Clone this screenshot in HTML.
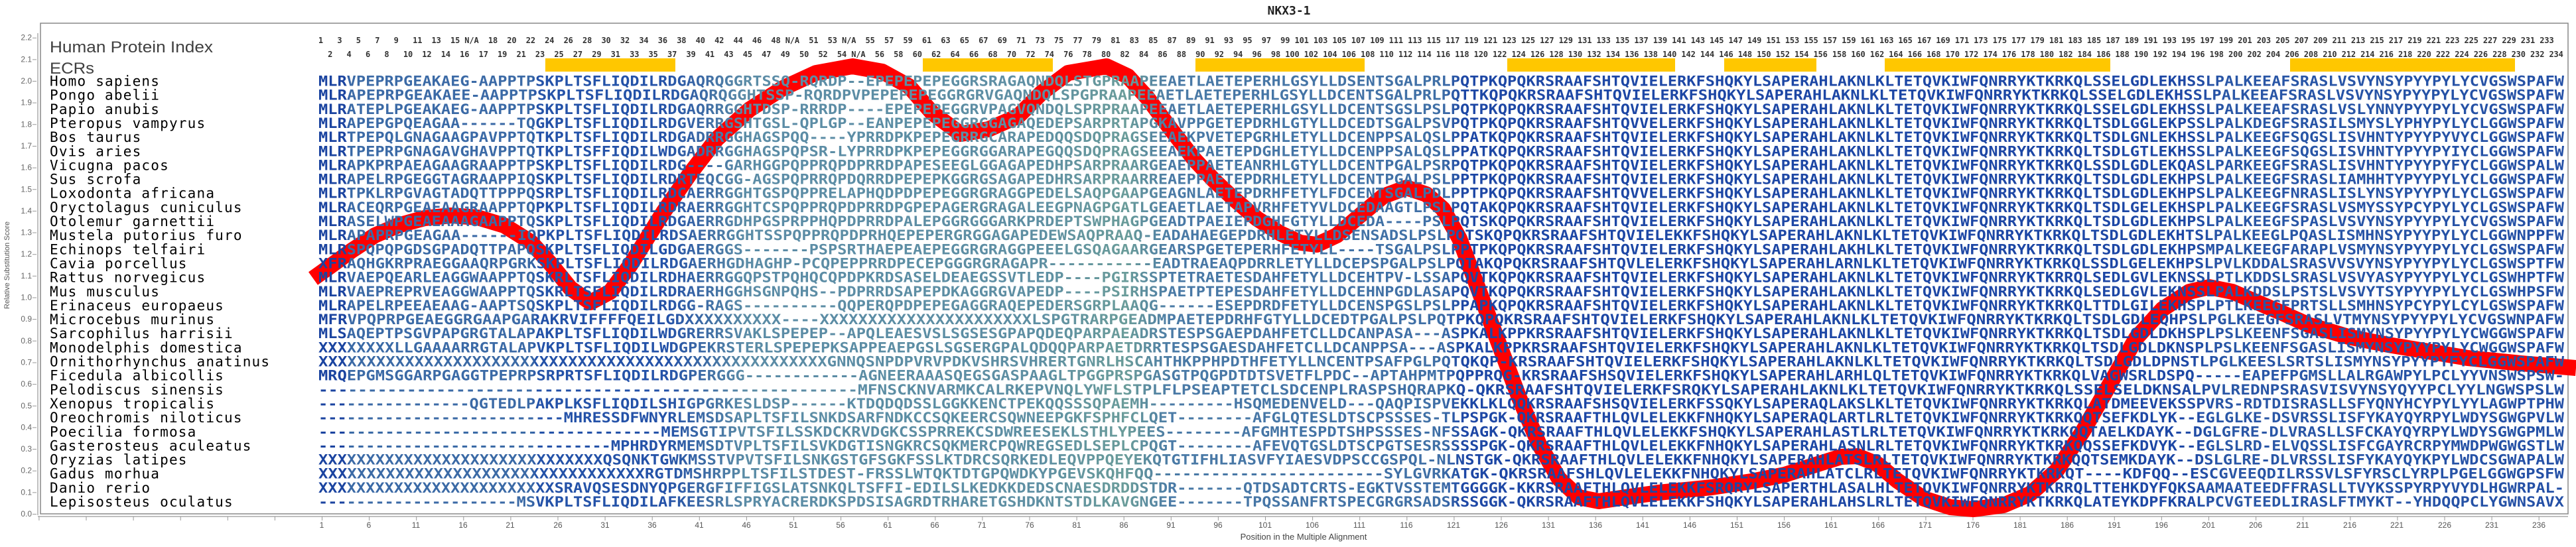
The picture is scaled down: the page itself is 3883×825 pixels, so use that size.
<!DOCTYPE html>
<html><head><meta charset="utf-8"><style>
html,body{margin:0;padding:0;background:#fff;}
svg{display:block;}
.sp{font-family:"DejaVu Sans Mono","Liberation Mono",monospace;font-size:21px;fill:#000;letter-spacing:1.2px;}
.sq{font-family:"DejaVu Sans Mono","Liberation Mono",monospace;font-size:21px;font-weight:bold;}
.hn{font-family:"DejaVu Sans Mono","Liberation Mono",monospace;font-size:12px;font-weight:bold;fill:#333;white-space:pre;}
.yt{font-family:"Liberation Sans",sans-serif;font-size:12px;fill:#666;text-anchor:end;}
.xt{font-family:"Liberation Sans",sans-serif;font-size:12px;fill:#555;text-anchor:middle;}
</style></head><body>
<svg width="3883" height="825" viewBox="0 0 3883 825" xmlns="http://www.w3.org/2000/svg">
<defs>
<linearGradient id="g" gradientUnits="userSpaceOnUse" x1="480" y1="0" x2="3865" y2="0">
<stop offset="0" stop-color="#1b44a0"/>
<stop offset="0.012" stop-color="#1b44a0"/>
<stop offset="0.014" stop-color="#3b6aa6"/>
<stop offset="0.095" stop-color="#3b6aa6"/>
<stop offset="0.097" stop-color="#2452a8"/>
<stop offset="0.155" stop-color="#2452a8"/>
<stop offset="0.17" stop-color="#3a68a5"/>
<stop offset="0.19" stop-color="#5b8ca6"/>
<stop offset="0.32" stop-color="#5e8fa3"/>
<stop offset="0.36" stop-color="#6a9c9a"/>
<stop offset="0.38" stop-color="#4a7aa6"/>
<stop offset="0.50" stop-color="#3f6fa6"/>
<stop offset="0.51" stop-color="#1d47a5"/>
<stop offset="0.83" stop-color="#1d47a5"/>
<stop offset="0.85" stop-color="#2a57a6"/>
<stop offset="1" stop-color="#2450a6"/>
</linearGradient>
</defs>

<text x="1943" y="22" text-anchor="middle" font-family="DejaVu Sans Mono,monospace" font-weight="bold" font-size="18" fill="#222">NKX3-1</text>

<rect x="61" y="35" width="3810" height="740" fill="none" stroke="#888" stroke-width="1.5"/>
<line x1="57" y1="50" x2="57" y2="777" stroke="#aaa" stroke-width="1.5"/>
<line x1="57" y1="779" x2="3871" y2="779" stroke="#aaa" stroke-width="1.5"/>
<line x1="52" y1="56.7" x2="52" y2="776" stroke="#999" stroke-width="6" stroke-dasharray="1 31.65" stroke-dashoffset="0"/>
<line x1="58.4" y1="782" x2="3830" y2="782" stroke="#999" stroke-width="6" stroke-dasharray="1 70.1"/>

<g class="yt">
<text x="48" y="779">0.0</text><text x="48" y="746.4">0.1</text><text x="48" y="713.7">0.2</text><text x="48" y="681.1">0.3</text><text x="48" y="648.4">0.4</text><text x="48" y="615.8">0.5</text><text x="48" y="583.1">0.6</text><text x="48" y="550.5">0.7</text><text x="48" y="517.8">0.8</text><text x="48" y="485.2">0.9</text><text x="48" y="452.5">1.0</text><text x="48" y="419.9">1.1</text><text x="48" y="387.2">1.2</text><text x="48" y="354.6">1.3</text><text x="48" y="321.9">1.4</text><text x="48" y="289.3">1.5</text><text x="48" y="256.6">1.6</text><text x="48" y="224">1.7</text><text x="48" y="191.3">1.8</text><text x="48" y="158.7">1.9</text><text x="48" y="126">2.0</text><text x="48" y="93.4">2.1</text><text x="48" y="60.7">2.2</text>
</g>
<text transform="translate(14,400) rotate(-90)" text-anchor="middle" font-family="Liberation Sans,sans-serif" font-size="11" fill="#555">Relative Substitution Score</text>

<g class="xt">
<text x="485" y="796">1</text><text x="556" y="796">6</text><text x="627" y="796">11</text><text x="698" y="796">16</text><text x="769" y="796">21</text><text x="841" y="796">26</text><text x="912" y="796">31</text><text x="983" y="796">36</text><text x="1054" y="796">41</text><text x="1125" y="796">46</text><text x="1196" y="796">51</text><text x="1267" y="796">56</text><text x="1338" y="796">61</text><text x="1409" y="796">66</text><text x="1480" y="796">71</text><text x="1552" y="796">76</text><text x="1623" y="796">81</text><text x="1694" y="796">86</text><text x="1765" y="796">91</text><text x="1836" y="796">96</text><text x="1907" y="796">101</text><text x="1978" y="796">106</text><text x="2049" y="796">111</text><text x="2120" y="796">116</text><text x="2191" y="796">121</text><text x="2263" y="796">126</text><text x="2334" y="796">131</text><text x="2405" y="796">136</text><text x="2476" y="796">141</text><text x="2547" y="796">146</text><text x="2618" y="796">151</text><text x="2689" y="796">156</text><text x="2760" y="796">161</text><text x="2831" y="796">166</text><text x="2902" y="796">171</text><text x="2974" y="796">176</text><text x="3045" y="796">181</text><text x="3116" y="796">186</text><text x="3187" y="796">191</text><text x="3258" y="796">196</text><text x="3329" y="796">201</text><text x="3400" y="796">206</text><text x="3471" y="796">211</text><text x="3542" y="796">216</text><text x="3613" y="796">221</text><text x="3685" y="796">226</text><text x="3756" y="796">231</text><text x="3827" y="796">236</text>
</g>
<text x="1965" y="814" text-anchor="middle" font-family="Liberation Sans,sans-serif" font-size="13" fill="#444">Position in the Multiple Alignment</text>

<text x="75" y="79" font-family="Liberation Sans,sans-serif" font-size="24" fill="#404040" textLength="246" lengthAdjust="spacingAndGlyphs">Human Protein Index</text>
<text x="75" y="111" font-family="Liberation Sans,sans-serif" font-size="24" fill="#404040" textLength="67" lengthAdjust="spacingAndGlyphs">ECRs</text>

<text class="hn" x="472.8" y="65" xml:space="preserve" textLength="3384" lengthAdjust="spacing"> 1   3   5   7   9   11  13  15 N/A  18  20  22  24  26  28  30  32  34  36  38  40  42  44  46  48 N/A  51  53 N/A  55  57  59  61  63  65  67  69  71  73  75  77  79  81  83  85  87  89  91  93  95  97  99 101 103 105 107 109 111 113 115 117 119 121 123 125 127 129 131 133 135 137 139 141 143 145 147 149 151 153 155 157 159 161 163 165 167 169 171 173 175 177 179 181 183 185 187 189 191 193 195 197 199 201 203 205 207 209 211 213 215 217 219 221 223 225 227 229 231 233 </text>
<text class="hn" x="487" y="86" xml:space="preserve" textLength="3384" lengthAdjust="spacing"> 2   4   6   8   10  12  14  16  17  19  21  23  25  27  29  31  33  35  37  39  41  43  45  47  49  50  52  54 N/A  56  58  60  62  64  66  68  70  72  74  76  78  80  82  84  86  88  90  92  94  96  98 100 102 104 106 108 110 112 114 116 118 120 122 124 126 128 130 132 134 136 138 140 142 144 146 148 150 152 154 156 158 160 162 164 166 168 170 172 174 176 178 180 182 184 186 188 190 192 194 196 198 200 202 204 206 208 210 212 214 216 218 220 222 224 226 228 230 232 234 </text>

<g fill="#ffc700">
<rect x="822" y="88" width="196" height="20"/>
<rect x="1391" y="88" width="196" height="20"/>
<rect x="1802" y="88" width="255" height="20"/>
<rect x="2272" y="88" width="253" height="20"/>
<rect x="2599" y="88" width="139" height="20"/>
<rect x="2841" y="88" width="340" height="20"/>
<rect x="3452" y="88" width="339" height="20"/>
</g>

<polyline fill="none" stroke="#ff0000" stroke-width="24" stroke-linejoin="round" stroke-linecap="butt" points="472,420 500,400 530,378 565,355 600,340 640,329 680,325 720,328 760,340 800,365 830,398 860,435 890,456 920,440 950,400 975,360 1000,320 1040,262 1080,210 1130,165 1180,133 1230,110 1285,100 1330,108 1370,130 1405,170 1448,202 1490,195 1535,175 1570,140 1610,110 1668,100 1700,115 1730,148 1765,195 1800,240 1830,272 1860,300 1895,330 1930,352 1960,366 1985,369 2015,355 2050,325 2085,296 2120,283 2150,293 2175,315 2200,360 2230,440 2260,520 2290,600 2320,670 2350,722 2380,750 2410,756 2450,750 2500,743 2580,735 2640,726 2690,716 2740,700 2775,689 2800,688 2830,700 2860,725 2900,752 2940,765 2975,768 3020,762 3060,745 3100,710 3140,650 3180,580 3220,510 3260,466 3300,440 3330,433 3365,440 3400,455 3440,472 3480,490 3540,508 3600,520 3660,530 3720,540 3800,548 3883,555"/>

<g class="sp">
<text x="75" y="129.5">Homo sapiens</text>
<text x="75" y="150.7">Pongo abelii</text>
<text x="75" y="171.8">Papio anubis</text>
<text x="75" y="193">Pteropus vampyrus</text>
<text x="75" y="214.1">Bos taurus</text>
<text x="75" y="235.3">Ovis aries</text>
<text x="75" y="256.4">Vicugna pacos</text>
<text x="75" y="277.6">Sus scrofa</text>
<text x="75" y="298.7">Loxodonta africana</text>
<text x="75" y="319.9">Oryctolagus cuniculus</text>
<text x="75" y="341">Otolemur garnettii</text>
<text x="75" y="362.2">Mustela putorius furo</text>
<text x="75" y="383.3">Echinops telfairi</text>
<text x="75" y="404.5">Cavia porcellus</text>
<text x="75" y="425.6">Rattus norvegicus</text>
<text x="75" y="446.8">Mus musculus</text>
<text x="75" y="467.9">Erinaceus europaeus</text>
<text x="75" y="489.1">Microcebus murinus</text>
<text x="75" y="510.2">Sarcophilus harrisii</text>
<text x="75" y="531.4">Monodelphis domestica</text>
<text x="75" y="552.5">Ornithorhynchus anatinus</text>
<text x="75" y="573.7">Ficedula albicollis</text>
<text x="75" y="594.8">Pelodiscus sinensis</text>
<text x="75" y="616">Xenopus tropicalis</text>
<text x="75" y="637.1">Oreochromis niloticus</text>
<text x="75" y="658.3">Poecilia formosa</text>
<text x="75" y="679.4">Gasterosteus aculeatus</text>
<text x="75" y="700.6">Oryzias latipes</text>
<text x="75" y="721.7">Gadus morhua</text>
<text x="75" y="742.9">Danio rerio</text>
<text x="75" y="764">Lepisosteus oculatus</text>
</g>

<g class="sq" fill="url(#g)">
<text x="480" y="129.5" textLength="3385" lengthAdjust="spacingAndGlyphs">MLRVPEPRPGEAKAEG-AAPPTPSKPLTSFLIQDILRDGAQRQGGRTSSQ-RQRDP--EPEPEPEPEGGRSRAGAQNDQLSTGPRAAPEEAETLAETEPERHLGSYLLDSENTSGALPRLPQTPKQPQKRSRAAFSHTQVIELERKFSHQKYLSAPERAHLAKNLKLTETQVKIWFQNRRYKTKRKQLSSELGDLEKHSSLPALKEEAFSRASLVSVYNSYPYYPYLYCVGSWSPAFW</text>
<text x="480" y="150.7" textLength="3385" lengthAdjust="spacingAndGlyphs">MLRAPEPRPGEAKAEE-AAPPTPSKPLTSFLIQDILRDGAQRQGGHTSSP-RQRDPVPEPEPEPEGGRGRVGAQNDQLSPGPRAAPEEAETLAETEPERHLGSYLLDCENTSGALPRLPQTTKQPQKRSRAAFSHTQVIELERKFSHQKYLSAPERAHLAKNLKLTETQVKIWFQNRRYKTKRKQLSSELGDLEKHSSLPALKEEAFSRASLVSVYNSYPYYPYLYCVGSWSPAFW</text>
<text x="480" y="171.8" textLength="3385" lengthAdjust="spacingAndGlyphs">MLRATEPLPGEAKAEG-AAPPTPSKPLTSFLIQDILRDGAQRRGGHTDSP-RRRDP----EPEPEPEGGRVPAGVQNDQLSPRPRAAPEEAETLAETEPERHLGSYLLDCENTSGSLPSLPQTPKQPQKRSRAAFSHTQVIELERKFSHQKYLSAPERAHLAKNLKLTETQVKIWFQNRRYKTKRKQLSSELGDLEKHSSLPALKEEAFSRASLVSLYNNYPYYPYLYCVGSWSPAFW</text>
<text x="480" y="193" textLength="3385" lengthAdjust="spacingAndGlyphs">MLRAPEPGPQEAGAA------TQGKPLTSFLIQDILRDGVERRGSHTGSL-QPLGP--EANPEPEPEGGRGGAGAQEDEPSARPRTAPGKAVPPGETEPDRHLGTYLLDCEDTSGALPSVPQTPKQPQKRSRAAFSHTQVVELERKFSHQKYLSAPERAHLAKNLKLTETQVKIWFQNRRYKTKRKQLTSDLGGLEKPSSLPALKDEGFSRASILSMYSLYPHYPYLYCLGGWSPAFW</text>
<text x="480" y="214.1" textLength="3385" lengthAdjust="spacingAndGlyphs">MLRTPEPQLGNAGAAGPAVPPTQTKPLTSFLIQDILRDGADRRGGHAGSPQQ----YPRRDPKPEPEGRRGCARAPEDQQSDQPRAGSEEAEKPVETEPGRHLETYLLDCENPPSALQSLPPATKQPQKRSRAAFSHTQVIELERKFSHQKYLSAPERAHLAKNLKLTETQVKIWFQNRRYKTKRKQLTSDLGNLEKHSSLPALKEEGFSQGSLISVHNTYPYYPYVYCLGGWSPAFW</text>
<text x="480" y="235.3" textLength="3385" lengthAdjust="spacingAndGlyphs">MLRTPEPRPGNAGAVGHAVPPTQTKPLTSFFIQDILWDGADRRGGHAGSPQPSR-LYPRRDPKPEPEGGRGGARAPEGQQSDQPRAGSEEAEKPAETEPDGHLETYLLDCENPPSALQSLPPATKQPQKRSRAAFSHTQVIELERKFSHQKYLSAPERAHLAKNLKLTETQVKIWFQNRRYKTKRKQLTSDLGTLEKHSSLPALKEEGFSQGSLISVHNTYPYYPYIYCLGGWSPAFW</text>
<text x="480" y="256.4" textLength="3385" lengthAdjust="spacingAndGlyphs">MLRAPKPRPAEAGAAGRAAPPTPSKPLTSFLIQDILRDG----GARHGGPQPPRQPDPRRDPAPESEEGLGGAGAPEDHPSARPRAARGEAEPPAETEANRHLGTYLLDCENTPGALPSRPQTPKQPQKRSRAAFSHTQVIELERKFSHQKYLSAPERAHLAKNLKLTETQVKIWFQNRRYKTKRKQLSSDLGDLEKQASLPARKEEGFSRASLISVHNTYPYYPYFYCLGGWSPALW</text>
<text x="480" y="277.6" textLength="3385" lengthAdjust="spacingAndGlyphs">MLRAPELRPGEGGTAGRAAPPIQSKPLTSFLIQDILRDRTEQCGG-AGSPQPRRQPDQRRDPEPEPKGGRGSAGAPEDHRSARPRAARREAEPPAETEPDRHLETYLLDCENTPGALPSLPPTPKQPQKRSRAAFSHTQVIELERKFSHQKYLSAPERAHLAKNLKLTETQVKIWFQNRRYKTKRKQLTSDLGDLEKHPSLPALKEEGFSRASLIAMHHTYPYYPYLYCLGGWSPAFW</text>
<text x="480" y="298.7" textLength="3385" lengthAdjust="spacingAndGlyphs">MLRTPKLRPGVAGTADQTTPPPQSRPLTSFLIQDILRDCAERRGGHTGSPQPPRELAPHQDPDPEPEGGRGRAGGPEDELSAQPGAAPGEAGNLAETEPDRHFETYLFDCENTSGALPDLPPTPKQPQKRSRAAFSHTQVVELERKFSHQKYLSAPERAHLAKNLKLTETQVKIWFQNRRYKTKRKQLTSDLGDLEKHPSLPALKEEGFNRASLISLYNSYPYYPYLYCLGSWSPAFW</text>
<text x="480" y="319.9" textLength="3385" lengthAdjust="spacingAndGlyphs">MLRACEQRPGEAEAAGRAAPPTQPKPLTSFLIQDILRDRAERRGGHTCSPQPPRQPDPRRDPGPEPAGERGRAGALEEGPNAGPGATLGEAETLAETAPVRHFETYVLDCEDAAGTLPSLPQTAKQPQKRSRAAFSHTQVIELERKFSHQKYLSAPERAHLAKNLKLTETQVKIWFQNRRYKTKRKQLTSDLGELEKHSPLPALKEEGFSRASLVSMYSSYPCYPYLYCLGSWSPAFW</text>
<text x="480" y="341" textLength="3385" lengthAdjust="spacingAndGlyphs">MLRASELWPGEAEAAAGAAPPTQSKPLTSFLIQDILRDGAERRGDHPGSPRPPHQPDPRRDPALEPGGRGGGARKPRDEPTSWPHAGPGEADTPAEIEPDGHFGTYLLDCEDA----PSLPQTSKQPQKRSRAAFSHTQVIELERKFSHQKYLSAPERAHLAKNLKLTETQVKIWFQNRRYKTKRKQLTSDLGDLEKHPSLPALKEEGFSPASLVSVYNSYPYYPYLYCVGSWSPAFW</text>
<text x="480" y="362.2" textLength="3385" lengthAdjust="spacingAndGlyphs">MLRAPAPRPGEAGAA------IQPKPLTSFLIQDILRDSAERRGGHTSSPQPPRQPDPRHQEPEPERGRGGAGAPEDEWSAQPRAAQ-EADAHAEGEPDRHLETYLLDSENSADSLPSLPQTSKQPQKRSRAAFSHTQVIELEKKFSHQKYLSAPERAHLAKNLKLTETQVKIWFQNRRYKTKRKQLTSDLGDLEKHTSLPALKEEGLPQASLISMHNSYPYYPYLYCLGGWNPPFW</text>
<text x="480" y="383.3" textLength="3385" lengthAdjust="spacingAndGlyphs">MLRSPQPQPGDSGPADQTTPAPQSKPLTSFLIQDILGDGAERGGS-------PSPSRTHAEPEAEPEGGRGRAGGPEEELGSQAGAARGEARSPGETEPERHFETYLL----TSGALPSLPPTPKQPQKRSRAAFSHTQVIELERKFSHQKYLSAPERAHLAKHLKLTETQVKIWFQNRRYKTKRKQLTSDLGDLEKHPSMPALKEEGFARAPLVSMYNSYPYYPYLYCLGSWSPAFW</text>
<text x="480" y="404.5" textLength="3385" lengthAdjust="spacingAndGlyphs">XFRAQHGKRPRAEGGAAQRPGRKSKPLTSFLIQDILRDGAERHGDHAGHP-PCQPEPPRRDPECEPGGGRGRAGAPR-----------EADTRAEAQPDRRLETYLLDCEPSPGALPSLPQTAKQPQKRSRAAFSHTQVLELERKFSHQKYLSAPERAHLARNLKLTETQVKIWFQNRRYKTKRKQLSSDLGELEKHPSLPVLKDDALSRASVVSVYNSYPYYPYLYCLGSWSPTFW</text>
<text x="480" y="425.6" textLength="3385" lengthAdjust="spacingAndGlyphs">MLRVAEPQEARLEAGGWAAPPTQSKRLTSFLIQDILRDHAERRGGQPSTPQHQCQPDPKRDSASELDEAEGSSVTLEDP----PGIRSSPTETRAETESDAHFETYLLDCEHTPV-LSSAPQVTKQPQKRSRAAFSHTQVIELERKFSHQKYLSAPERAHLAKNLKLTETQVKIWFQNRRYKTKRRQLSEDLGVLEKNSSLPTLKDDSLSRASLVSVYASYPYYPYLYCLGSWHPTFW</text>
<text x="480" y="446.8" textLength="3385" lengthAdjust="spacingAndGlyphs">MLRVAEPREPRVEAGGWAAPPTQSKRLTSFLIQDILRDRAERHGGHSGNPQHS--PDPRRDSAPEPDKAGGRGVAPEDP----PSIRHSPAETPTEPESDAHFETYLLDCEHNPGDLASAPQVTKQPQKRSRAAFSHTQVIELERKFSHQKYLSAPERAHLAKNLKLTETQVKIWFQNRRYKTKRKQLSEDLGVLEKNSSLPALKDDSLPSTSLVSVYTSYPYYPYLYCLGSWHPSFW</text>
<text x="480" y="467.9" textLength="3385" lengthAdjust="spacingAndGlyphs">MLRAPELRPEEAEAAG-AAPTSQSKPLTSFLIQDILRDGG-RAGS----------QQPERQPDPEPEGAGGRAQEPEDERSGRPLAAQG------ESEPDRDFETYLLDCENSPGSLPSLPPAPKQPQKRSRAAFSHTQVIELERKFSHQKYLSAPERAHLAKNLKLTETQVKIWFQNRRYKTKRKQLTTDLGILEKHSPLPTLKEEGFPRTSLLSMHNSYPCYPYLCYLGSWSPAFW</text>
<text x="480" y="489.1" textLength="3385" lengthAdjust="spacingAndGlyphs">MFRVPQPRPGEAEGGRGAAPGARAKRVIFFFFQEILGDXXXXXXXXXX----XXXXXXXXXXXXXXXXXXXXXXLSPGTRARPGEADMPAETEPDRHFGTYLLDCEDTPGALPSLPQTPKQPQKRSRAAFSHTQVIELERKFSHQKYLSAPERAHLAKNLKLTETQVKIWFQNRRYKTKRKQLTSDLGDLEQHPSLPGLKEEGFSRASLVTMYNSYPYYPYLYCVGSWNPAFW</text>
<text x="480" y="510.2" textLength="3385" lengthAdjust="spacingAndGlyphs">MLSAQEPTPSGVPAPGRGTALAPAKPLTSFLIQDILWDGRERRSVAKLSPEPEP--APQLEAESVSLSGSESGPAPQDEQPARPAEADRSTESPSGAEPDAHFETCLLDCANPASA---ASPKALKPPKRSRAAFSHTQVIELERKFSHQKYLSAPERAHLAKNLKLTETQVKIWFQNRRYKTKRKQLTSDLGDLDKHSPLPSLKEENFSGASLISMYNSYPYYPYLYCWGGWSPAFW</text>
<text x="480" y="531.4" textLength="3385" lengthAdjust="spacingAndGlyphs">XXXXXXXXLLGAAAARRGTALAPVKPLTSFLIQDILWDGPEKRSTERLSPEPEPKSAPPEAEPGSLSGSERGPALQDQQPARPAETDRRTESPSGAESDAHFETCLLDCANPPSA---ASPKALKPPKRSRAAFSHTQVIELERKFSHQKYLSAPERAHLAKNLKLTETQVKIWFQNRRYKTKRKQLTSDLGDLDKNSPLPSLKEENFSGASLISMYNSYPYYPYLYCWGGWSPAFW</text>
<text x="480" y="552.5" textLength="3385" lengthAdjust="spacingAndGlyphs">XXXXXXXXXXXXXXXXXXXXXXXXXXXXXXXXXXXXXXXXXXXXXXXXXXXXXGNNQSNPDPVRVPDKVSHRSVHRERTGNRLHSCAHTHKPPHPDTHFETYLLNCENTPSAFPGLPQTQKQP-KRSRAAFSHTQVIELERKFSHQKYLSAPERAHLAKNLKLTETQVKIWFQNRRYKTKRKQLTSDLGDLDPNSTLPGLKEESLSRTSLISMYNSYPYYPYFYCLGGWSPAFW</text>
<text x="480" y="573.7" textLength="3385" lengthAdjust="spacingAndGlyphs">MRQEPGMSGGARPGAGGTPEPRPSRPRTSFLIQDILRDGPERGGG------------AGNEERAAASQEGSGASPAAGLTPGGPRSPGASGTPQGPDTDTSVETFLPDC--APTAHPMTPQPPRQG-KRSRAAFSHSQVIELERKFSHQKYLSAPERAHLARHLQLTETQVKIWFQNRRYKTKRKQLVAGWSRLDSPQ-----EAPEFPGMSLLALRGAWPYLPCLYYVNSWSPSW-</text>
<text x="480" y="594.8" textLength="3385" lengthAdjust="spacingAndGlyphs">-------------------------------------------------------MFNSCKNVARMKCALRKEPVNQLYWFLSTPLFLPSEAPTETCLSDCENPLRASPSHQRAPKQ-QKRSRAAFSHTQVIELERKFSRQKYLSAPERAHLAKNLKLTETQVKIWFQNRRYKTKRKQLSSELSELDKNSALPVLREDNPSRASVISVYNSYQYYPCLYYLNGWSPSLW</text>
<text x="480" y="616" textLength="3385" lengthAdjust="spacingAndGlyphs">----------------QGTEDLPAKPLKSFLIQDILSHIGPGRKESLDSP------KTDQDQDSSLGGKKENCTPEKQQSSSQPAEMH---------HSQMEDENVELD---QAQPISPVEKKLKLQQKRSRAAFSHSQVIELERKFSSQKYLSAPERAQLAKSLKLTETQVKIWFQNRRYKTKRKQLATDMEEVEKSSPVRS-RDTDISRASLLSFYQNYHCYPYLYYLAGWPTPHW</text>
<text x="480" y="637.1" textLength="3385" lengthAdjust="spacingAndGlyphs">--------------------------MHRESSDFWNYRLEMSDSAPLTSFILSNKDSARFNDKCCSQKEERCSQWNEEPGKFSPHFCLQET--------AFGLQTESLDTSCPSSSES-TLPSPGK-QKRSRAAFTHLQVLELEKKFNHQKYLSAPERAQLARTLRLTETQVKIWFQNRRYKTKRKQQTSEFKDLYK--EGLGLKE-DSVRSSLISFYKAYQYRPYLWDYSGWGPVLW</text>
<text x="480" y="658.3" textLength="3385" lengthAdjust="spacingAndGlyphs">------------------------------------MEMSGTIPVTSFILSSKDCKRVDGKCSSPRREKCSDWREESEKLSTHLYPEES--------AFGMHTESPDTSHPSSSES-NFSSAGK-QKRSRAAFTHLQVLELEKKFSHQKYLSAPERAHLASTLRLTETQVKIWFQNRRYKTKRKQQTAELKDAYK--DGLGFRE-DLVRASLLSFCKAYQYRPYLWDYSGWGPMLW</text>
<text x="480" y="679.4" textLength="3385" lengthAdjust="spacingAndGlyphs">-------------------------------MPHRDYRMEMSDTVPLTSFILSVKDGTISNGKRCSQKMERCPQWREGSEDLSEPLCPQGT--------AFEVQTGSLDTSCPGTSESRSSSSPGK-QKRSRAAFTHLQVLELEKKFNHQKYLSAPERAHLASNLRLTETQVKIWFQNRRYKTKRKQQSSEFKDVYK--EGLSLRD-ELVQSSLISFCGAYRCRPYMWDPWGWGSTLW</text>
<text x="480" y="700.6" textLength="3385" lengthAdjust="spacingAndGlyphs">XXXXXXXXXXXXXXXXXXXXXXXXXXXXXXQSQNKTGWKMSSTVPVTSFILSNKGSTGFSGKFSSLKTDRCSQRKEDLEQVPPQEYEKQTGTIFHLIASVFYIAESVDPSCCGSPQL-NLNSTGK-QKRSRAAFTHLQVLELEKKFNHQKYLSAPERAHLATSLRLTETQVKIWFQNRRYKTKRKQQTSEMKDAYK--DSLGLRE-DLVRSSLISFYKAYQYKPYLWDCSGWAPALW</text>
<text x="480" y="721.7" textLength="3385" lengthAdjust="spacingAndGlyphs">XXXXXXXXXXXXXXXXXXXXXXXXXXXXXXXXXXRGTDMSHRPPLTSFILSTDEST-FRSSLWTQKTDTGPQWDKYPGEVSKQHFQQ------------------------SYLGVRKATGK-QKRSRAAFSHLQVLELEKKFNHQKYLSAPERAHLATCLRLTETQVKIWFQNRRYKTKRKQT----KDFQQ--ESCGVEEQDILRSSVLSFYRSCLYRPLPGELGGWGPSFW</text>
<text x="480" y="742.9" textLength="3385" lengthAdjust="spacingAndGlyphs">XXXXXXXXXXXXXXXXXXXXXXXXXSRAVQSESDNYQPGERGFIFFIGSLATSNKQLTSFFI-EDILSLKEDKKDEDSCNAESDRDDSTDR-------QTDSADTCRTS-EGKTVSSTEMTGGGGK-KKRSRAAFTHLQVLELEKKFSRQRYLSAPERTHLASALHLTETQVKIWFQNRRYKTKRRQLTTEHKDYFQKSAAMAATEEDFFRASLLTVYKSSPYRPYVYDLHGWRPAL-</text>
<text x="480" y="764" textLength="3385" lengthAdjust="spacingAndGlyphs">---------------------MSVKPLTSFLIQDILAFKEESRLSPRYACRERDKSPDSISAGRDTRHARETGSHDKNTSTDLKAVGNGEE-------TPQSSANFRTSPECGRGRSADSRSSGGK-QKRSRAAFTHLQVLELEKKFSHQKYLSAPERAHLAHSLRLTETQVKIWFQNRRYKTKRKQLATEYKDPFKRALPCVGTEEDLIRASLFTMYKT--YHDQQPCLYGWNSAVX</text>
</g>
</svg>
</body></html>
